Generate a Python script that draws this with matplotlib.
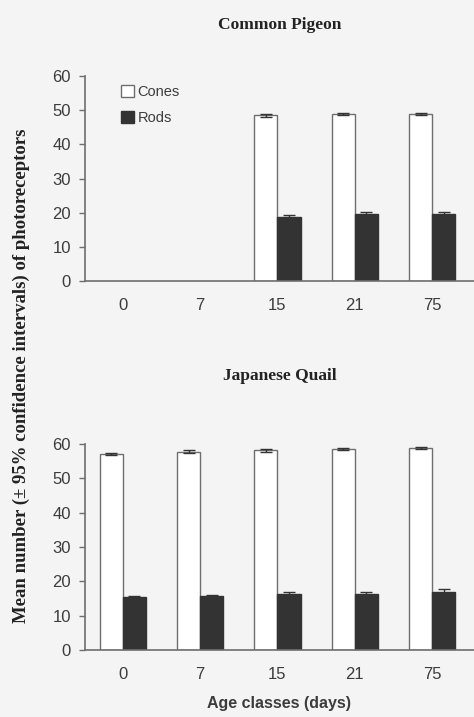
import numpy as np
import matplotlib
matplotlib.use("Agg")
import matplotlib.pyplot as plt

ages = ["0", "7", "15", "21", "75"]

# pigeon: no counts before day 15
pigeon_cones = [np.nan, np.nan, 48.5, 48.8, 48.8]
pigeon_cones_ci = [0, 0, 0.5, 0.3, 0.3]
pigeon_rods = [np.nan, np.nan, 18.7, 19.6, 19.6]
pigeon_rods_ci = [0, 0, 0.6, 0.5, 0.5]

quail_cones = [57.1, 57.7, 58.1, 58.4, 58.9]
quail_cones_ci = [0.3, 0.5, 0.5, 0.3, 0.3]
quail_rods = [15.3, 15.7, 16.3, 16.3, 16.9]
quail_rods_ci = [0.4, 0.3, 0.6, 0.6, 0.9]

BG = "#f4f4f4"
DARK = "#333333"
EDGE = "#6e6e6e"
TXT = "#3c3c3c"
SANS = "Liberation Sans"
SERIF = "Liberation Serif"


def draw(ax, cones, cones_ci, rods, rods_ci, title, title_pad, show_legend):
    x = np.arange(len(ages))
    w = 0.3
    ax.set_facecolor(BG)
    ebar = dict(ecolor=DARK, elinewidth=1.0, capsize=4, capthick=1.0)
    ax.bar(x - w / 2, cones, w, color="white", edgecolor=EDGE, linewidth=1.0,
           yerr=cones_ci, error_kw=ebar, label="Cones", zorder=2)
    ax.bar(x + w / 2, rods, w, color=DARK, edgecolor=DARK, linewidth=1.0,
           yerr=rods_ci, error_kw=ebar, label="Rods", zorder=2)
    ax.set_xlim(-0.49, 4.54)
    ax.set_ylim(0, 60)
    ax.set_yticks(range(0, 61, 10))
    ax.set_xticks(x)
    ax.set_xticklabels(ages)
    for s in ("top", "right"):
        ax.spines[s].set_visible(False)
    for s in ("left", "bottom"):
        ax.spines[s].set_color(EDGE)
        ax.spines[s].set_linewidth(1.2)
    ax.tick_params(axis="y", length=4, width=1.0, color=EDGE, labelcolor=TXT,
                   labelsize=12, pad=6)
    ax.tick_params(axis="x", length=0, labelcolor=TXT, labelsize=12, pad=12)
    for lab in ax.get_xticklabels() + ax.get_yticklabels():
        lab.set_family(SANS)
    ax.set_title(title, fontsize=12.5, fontweight="bold", family=SERIF,
                 color="#222222", pad=title_pad)
    if show_legend:
        ax.legend(loc="upper left", bbox_to_anchor=(0.06, 1.02), frameon=False,
                  prop={"family": SANS, "size": 10.5}, handlelength=0.9,
                  handleheight=0.9, handletextpad=0.2, labelspacing=0.8,
                  labelcolor=TXT)


fig = plt.figure(figsize=(4.74, 7.17), dpi=100)
fig.patch.set_facecolor(BG)

ax1 = fig.add_axes([0.179, 0.608, 0.821, 0.286])
draw(ax1, pigeon_cones, pigeon_cones_ci, pigeon_rods, pigeon_rods_ci,
     "Common Pigeon", 34, True)

ax2 = fig.add_axes([0.179, 0.0934, 0.821, 0.2876])
draw(ax2, quail_cones, quail_cones_ci, quail_rods, quail_rods_ci,
     "Japanese Quail", 46, False)
ax2.set_xlabel("Age classes (days)", family=SANS, fontweight="bold",
               fontsize=11.5, color=TXT, labelpad=10)

fig.text(0.046, 0.476, "Mean number (\u00b1 95% confidence intervals) of photoreceptors",
         rotation=90, ha="center", va="center", family=SERIF, fontweight="bold",
         fontsize=13.5, color="#222222")

fig.savefig("out.png", dpi=100, facecolor=BG)
